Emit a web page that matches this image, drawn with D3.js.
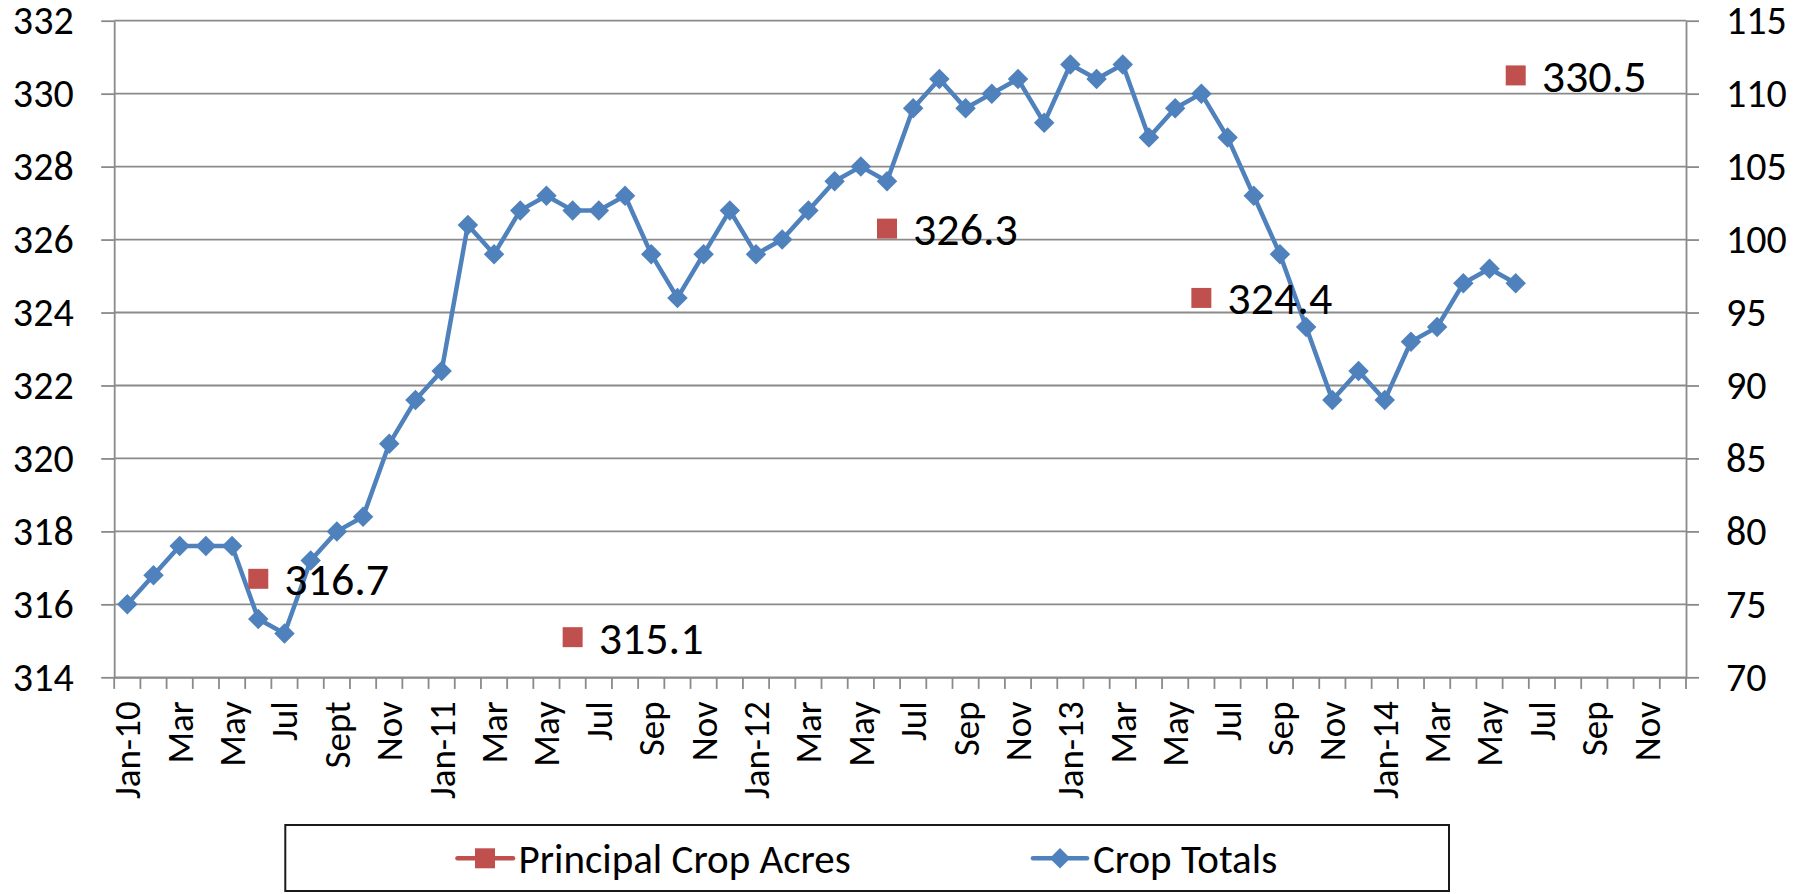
<!DOCTYPE html>
<html>
<head>
<meta charset="utf-8">
<script src="https://cdn.jsdelivr.net/npm/d3@7"></script>
<style>
  body { margin: 0; background: #fff; }
  svg { display: block; font-family: Carlito, Calibri, Lato, sans-serif; }
</style>
</head>
<body>
<svg width="1795" height="894"></svg>
<script>
// months on the x axis, Jan-10 .. Dec-14
var categories = [
    "Jan-10","Feb-10","Mar-10","Apr-10","May-10","Jun-10","Jul-10","Aug-10","Sep-10","Oct-10","Nov-10","Dec-10",
    "Jan-11","Feb-11","Mar-11","Apr-11","May-11","Jun-11","Jul-11","Aug-11","Sep-11","Oct-11","Nov-11","Dec-11",
    "Jan-12","Feb-12","Mar-12","Apr-12","May-12","Jun-12","Jul-12","Aug-12","Sep-12","Oct-12","Nov-12","Dec-12",
    "Jan-13","Feb-13","Mar-13","Apr-13","May-13","Jun-13","Jul-13","Aug-13","Sep-13","Oct-13","Nov-13","Dec-13",
    "Jan-14","Feb-14","Mar-14","Apr-14","May-14","Jun-14","Jul-14","Aug-14","Sep-14","Oct-14","Nov-14","Dec-14"
];

// labels shown on every other month
var tickLabels = [
    "Jan-10","Mar","May","Jul","Sept","Nov",
    "Jan-11","Mar","May","Jul","Sep","Nov",
    "Jan-12","Mar","May","Jul","Sep","Nov",
    "Jan-13","Mar","May","Jul","Sep","Nov",
    "Jan-14","Mar","May","Jul","Sep","Nov"
];

// Crop Totals (right axis), Jan-10 .. Jun-14
var cropTotals = [
    75, 77, 79, 79, 79, 74, 73, 78, 80, 81, 86, 89,
    91, 101, 99, 102, 103, 102, 102, 103, 99, 96, 99, 102,
    99, 100, 102, 104, 105, 104, 109, 111, 109, 110, 111, 108,
    112, 111, 112, 107, 109, 110, 107, 103, 99, 94, 89, 91,
    89, 93, 94, 97, 98, 97
];

// Principal Crop Acres (left axis)
var acresMonths = ["Jun-10", "Jun-11", "Jun-12", "Jun-13", "Jun-14"];
var acresValues = [316.7, 315.1, 326.3, 324.4, 330.5];

var leftTicks = d3.range(314, 333, 2);
var rightTicks = d3.range(70, 116, 5);

var svg = d3.select("svg");

var plotLeft = 114.2, plotRight = 1686,
    plotTop = 20.7, plotBottom = 677.3;

var gridColor = "#8a8a8a";
var blue = "#4F81BD", red = "#C0504D";
var font = "Carlito, Calibri, Lato, sans-serif";

var x = d3.scaleBand()
    .domain(categories)
    .range([plotLeft, plotRight]);

var yLeft = d3.scaleLinear()
    .domain([314, 332])
    .range([plotBottom, plotTop]);

var yRight = d3.scaleLinear()
    .domain([70, 115])
    .range([plotBottom, plotTop]);

function cx(cat) { return x(cat) + x.bandwidth() / 2; }

// gridlines
svg.append("g").attr("class", "grid")
    .selectAll("line")
    .data(leftTicks).enter()
    .append("line")
    .attr("x1", plotLeft).attr("x2", plotRight)
    .attr("y1", function(d) { return yLeft(d); })
    .attr("y2", function(d) { return yLeft(d); })
    .style("stroke", gridColor)
    .style("stroke-width", 1.8);

// left axis
var leftAxis = svg.append("g")
    .attr("transform", "translate(" + plotLeft + ",0)")
    .call(d3.axisLeft(yLeft).tickValues(leftTicks).tickSize(13).tickSizeOuter(0).tickPadding(27.5));

// right axis
var rightAxis = svg.append("g")
    .attr("transform", "translate(" + plotRight + ",0)")
    .call(d3.axisRight(yRight).tickValues(rightTicks).tickSize(13).tickSizeOuter(0).tickPadding(27));

[leftAxis, rightAxis].forEach(function(g) {
    g.select(".domain").style("stroke", gridColor).style("stroke-width", 1.8);
    g.selectAll(".tick line").style("stroke", gridColor).style("stroke-width", 1.8);
    g.selectAll(".tick text")
        .style("font-size", "40px")
        .style("font-family", font)
        .style("fill", "#000");
});

// bottom axis: labels on every other month
var labelled = categories.filter(function(d, i) { return i % 2 === 0; });
var bottomAxis = svg.append("g")
    .attr("transform", "translate(0," + plotBottom + ")")
    .call(d3.axisBottom(x)
        .tickValues(labelled)
        .tickSize(0)
        .tickFormat(function(d) { return tickLabels[categories.indexOf(d) / 2]; }));

bottomAxis.select(".domain").style("stroke", gridColor).style("stroke-width", 1.8);
bottomAxis.selectAll(".tick text")
    .attr("transform", "rotate(-90)")
    .attr("x", -24)
    .attr("y", 0)
    .attr("dy", "0.35em")
    .style("text-anchor", "end")
    .style("font-size", "37px")
    .style("font-family", font)
    .style("fill", "#000");

// tick marks between categories
var boundaries = categories.map(function(c) { return x(c); }).concat([plotRight]);
svg.append("g").attr("class", "x-ticks")
    .selectAll("line")
    .data(boundaries).enter()
    .append("line")
    .attr("x1", function(d) { return d; })
    .attr("x2", function(d) { return d; })
    .attr("y1", plotBottom)
    .attr("y2", plotBottom + 11.6)
    .style("stroke", gridColor)
    .style("stroke-width", 1.8);

// Crop Totals line
var line = d3.line()
    .x(function(d, i) { return cx(categories[i]); })
    .y(function(d) { return yRight(d); });

svg.append("path")
    .datum(cropTotals)
    .attr("d", line)
    .style("fill", "none")
    .style("stroke", blue)
    .style("stroke-width", 4.5)
    .style("stroke-linejoin", "round");

var diamond = d3.symbol().type(d3.symbolSquare).size(210);

svg.append("g").attr("class", "diamonds")
    .selectAll("path")
    .data(cropTotals).enter()
    .append("path")
    .attr("d", diamond)
    .attr("transform", function(d, i) {
        return "translate(" + cx(categories[i]) + "," + yRight(d) + ") rotate(45)";
    })
    .style("fill", blue);

// Principal Crop Acres markers + labels
var square = d3.symbol().type(d3.symbolSquare).size(400);

var acres = svg.append("g").attr("class", "acres")
    .selectAll("g")
    .data(acresValues).enter()
    .append("g")
    .attr("transform", function(d, i) {
        return "translate(" + cx(acresMonths[i]) + "," + yLeft(d) + ")";
    });

acres.append("path")
    .attr("d", square)
    .style("fill", red);

acres.append("text")
    .attr("x", 26)
    .attr("dy", "0.36em")
    .style("font-size", "46px")
    .style("fill", "#000")
    .text(function(d) { return d.toFixed(1); });

// legend
var legend = svg.append("g").attr("class", "legend");

legend.append("rect")
    .attr("x", 285.3).attr("y", 825)
    .attr("width", 1163.7).attr("height", 66)
    .style("fill", "#fff")
    .style("stroke", "#1a1a1a")
    .style("stroke-width", 2);

var legendY = 858.3;

legend.append("line")
    .attr("x1", 457.5).attr("x2", 513)
    .attr("y1", legendY).attr("y2", legendY)
    .style("stroke", red).style("stroke-width", 4.5).style("stroke-linecap", "round");
legend.append("path")
    .attr("d", square)
    .attr("transform", "translate(485," + legendY + ")")
    .style("fill", red);
legend.append("text")
    .attr("x", 518.5).attr("y", legendY)
    .attr("dy", "0.36em")
    .style("font-size", "41px")
    .style("fill", "#000")
    .text("Principal Crop Acres");

legend.append("line")
    .attr("x1", 1033).attr("x2", 1087)
    .attr("y1", legendY).attr("y2", legendY)
    .style("stroke", blue).style("stroke-width", 4.5).style("stroke-linecap", "round");
legend.append("path")
    .attr("d", diamond)
    .attr("transform", "translate(1060," + legendY + ") rotate(45)")
    .style("fill", blue);
legend.append("text")
    .attr("x", 1093).attr("y", legendY)
    .attr("dy", "0.36em")
    .style("font-size", "41px")
    .style("fill", "#000")
    .text("Crop Totals");
</script>
</body>
</html>
